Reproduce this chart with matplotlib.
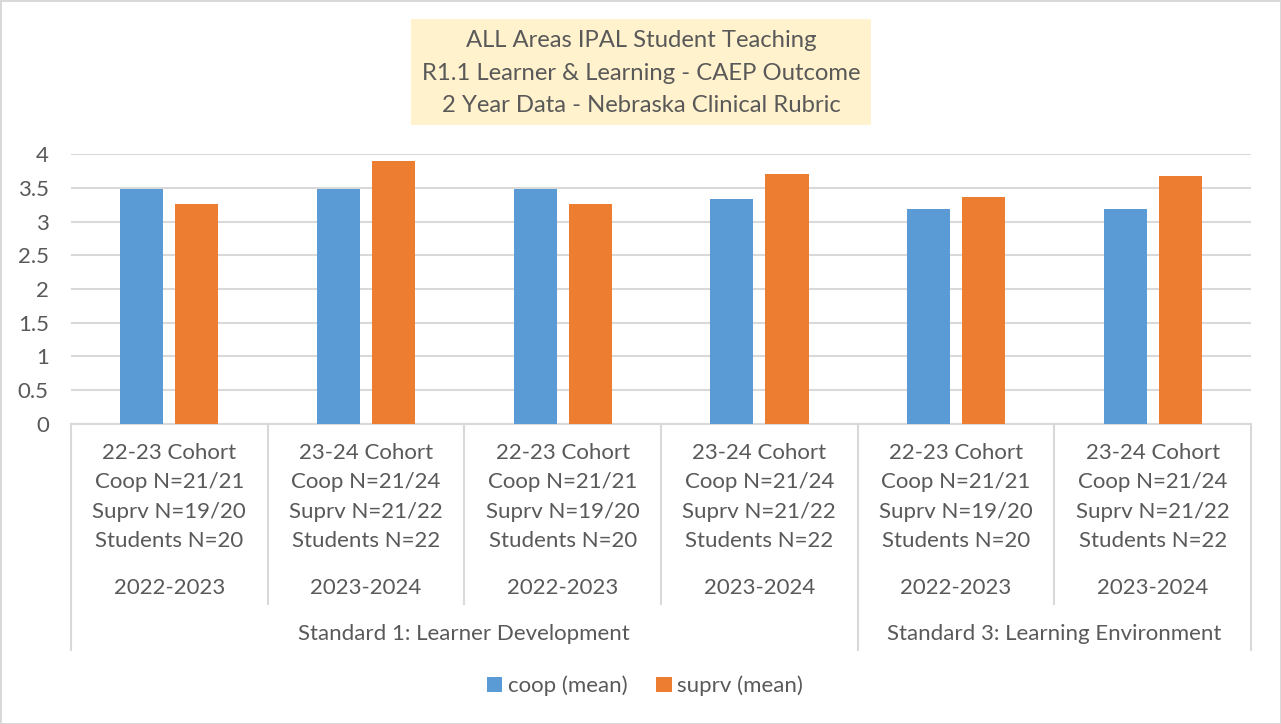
import matplotlib
matplotlib.use("Agg")
import matplotlib.pyplot as plt
import matplotlib.transforms as mtransforms
from matplotlib.patches import Rectangle
import numpy as np

plt.rcParams['font.family'] = ['Lato', 'DejaVu Sans']

# data
cohorts = ["22-23 Cohort\nCoop N=21/21\nSuprv N=19/20\nStudents N=20",
           "23-24 Cohort\nCoop N=21/24\nSuprv N=21/22\nStudents N=22",
           "22-23 Cohort\nCoop N=21/21\nSuprv N=19/20\nStudents N=20",
           "23-24 Cohort\nCoop N=21/24\nSuprv N=21/22\nStudents N=22",
           "22-23 Cohort\nCoop N=21/21\nSuprv N=19/20\nStudents N=20",
           "23-24 Cohort\nCoop N=21/24\nSuprv N=21/22\nStudents N=22"]
years = ["2022-2023", "2023-2024", "2022-2023", "2023-2024", "2022-2023", "2023-2024"]
standards = ["Standard 1: Learner Development", "Standard 3: Learning Environment"]
standard_span = [4, 2]
coop_mean = [3.48, 3.48, 3.48, 3.33, 3.19, 3.19]
suprv_mean = [3.26, 3.90, 3.26, 3.71, 3.37, 3.67]

title = "ALL Areas IPAL Student Teaching\nR1.1 Learner & Learning - CAEP Outcome\n2 Year Data - Nebraska Clinical Rubric"

blue = "#5B9BD5"
orange = "#ED7D31"
txt = "#595959"
grid_c = "#D9D9D9"

W, H = 1281, 724
fig = plt.figure(figsize=(W / 100, H / 100), dpi=100)
fig.patch.set_edgecolor(grid_c)
fig.patch.set_linewidth(2)

# plot area in pixels: x 71..1251, y 154..424
ax = fig.add_axes([71 / W, 1 - 424 / H, (1251 - 71) / W, (424 - 154) / H])

x = np.arange(len(coop_mean))
bw = 0.22
ax.bar(x - 0.14, coop_mean, bw, color=blue, label="coop (mean)", zorder=3)
ax.bar(x + 0.14, suprv_mean, bw, color=orange, label="suprv (mean)", zorder=3)

ax.set_xlim(-0.5, len(x) - 0.5)
ax.set_ylim(0, 4)
ax.set_yticks(np.arange(0, 4.01, 0.5))
ax.set_yticklabels(["0", "0.5", "1", "1.5", "2", "2.5", "3", "3.5", "4"])
ax.tick_params(axis='y', length=0, pad=16, labelsize=16, labelcolor=txt)
ax.set_xticks([])
ax.yaxis.grid(True, color=grid_c, linewidth=1.5, zorder=0)
for s in ["left", "right", "top"]:
    ax.spines[s].set_visible(False)
ax.spines["bottom"].set_color(grid_c)
ax.spines["bottom"].set_linewidth(1.5)

# multi-level category axis, y given in figure pixels
trans = mtransforms.blended_transform_factory(ax.transData, fig.transFigure)


def py(p):
    return 1 - p / H


for i in range(len(x)):
    ax.text(x[i], py(497), cohorts[i], transform=trans, ha='center', va='center',
            fontsize=16, color=txt, linespacing=1.59)
    ax.text(x[i], py(588), years[i], transform=trans, ha='center', va='center',
            fontsize=16, color=txt)

start = 0
for name, span in zip(standards, standard_span):
    ax.text(start - 0.5 + span / 2, py(634), name, transform=trans, ha='center',
            va='center', fontsize=16, color=txt)
    start += span

bounds = np.cumsum([0] + standard_span) - 0.5
for b in np.arange(-0.5, len(x)):
    bottom = 650 if b in bounds else 604
    ax.plot([b, b], [py(424), py(bottom)], transform=trans, color=grid_c,
            linewidth=1.5, clip_on=False)

# title box
fig.patches.append(Rectangle((411 / W, py(125)), (871 - 411) / W, (125 - 19) / H,
                             transform=fig.transFigure, facecolor="#FFF2CC",
                             edgecolor="none", zorder=0))
fig.text(641 / W, py(73), title, ha='center', va='center', fontsize=17.2,
         color=txt, linespacing=1.68)

fig.legend(loc='center', bbox_to_anchor=(645 / W, py(686)), ncol=2, frameon=False,
           fontsize=16, labelcolor=txt, handlelength=0.7, handleheight=0.7,
           handletextpad=0.25, columnspacing=1.3)

fig.savefig("out.png", dpi=100)
